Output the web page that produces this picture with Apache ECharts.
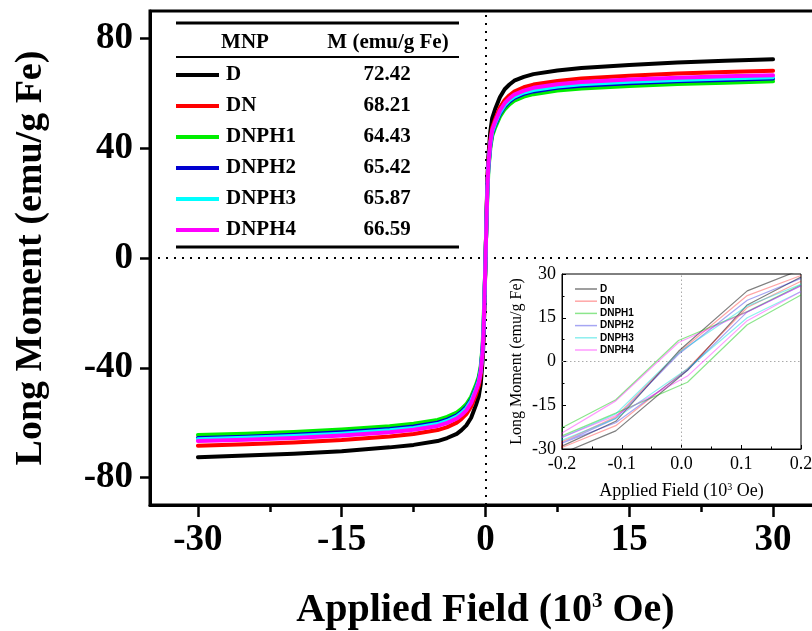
<!DOCTYPE html>
<html><head><meta charset="utf-8">
<script src="https://cdn.jsdelivr.net/npm/echarts@6/dist/echarts.min.js"></script>
<style>html,body{margin:0;padding:0;background:#fff}#c{width:812px;height:631px}</style>
</head><body><div id="c"></div>
<script>
// ---------- data ----------
const seriesNames = ['D', 'DN', 'DNPH1', 'DNPH2', 'DNPH3', 'DNPH4'];
const satValues = ['72.42', '68.21', '64.43', '65.42', '65.87', '66.59'];
const tableHeader = ['MNP', 'M (emu/g Fe)'];

const xField = [-30,-25,-20,-15,-10,-7.5,-5,-4,-3,-2.5,-2,-1.5,-1,-0.7,-0.5,-0.3,-0.2,-0.1,0,
                0.1,0.2,0.3,0.5,0.7,1,1.5,2,2.5,3,4,5,7.5,10,15,20,25,30];
const mD   = [-72.6,-72.0,-71.3,-70.4,-69.0,-68.1,-66.7,-65.6,-64.1,-62.7,-61.0,-58.2,-53.6,-50.3,-46.0,-37.2,-29.5,-15.8,-1.0,
              14.5,29.0,37.0,46.0,51.0,54.2,58.6,61.5,63.2,64.6,66.0,67.0,68.3,69.2,70.3,71.2,71.9,72.4];
const mDN  = [-68.4,-67.9,-67.2,-66.3,-65.0,-64.1,-62.7,-61.6,-60.0,-58.6,-56.9,-54.2,-49.8,-46.6,-42.6,-34.5,-27.5,-14.5,-0.8,
              14.0,27.5,35.0,43.0,47.5,50.5,54.8,57.5,59.3,60.6,62.2,63.2,64.5,65.4,66.4,67.2,67.8,68.2];
const mH1  = [-64.5,-64.0,-63.4,-62.5,-61.3,-60.4,-59.0,-57.9,-56.3,-55.0,-53.3,-50.6,-46.3,-43.2,-39.5,-32.0,-23.0,-12.5,-1.0,
              13.5,23.0,32.0,40.0,44.5,47.5,51.5,54.2,56.0,57.3,58.8,59.7,61.0,61.8,62.7,63.4,63.9,64.4];
const mH2  = [-65.6,-65.1,-64.4,-63.5,-62.3,-61.4,-60.0,-58.9,-57.3,-56.0,-54.3,-51.6,-47.4,-44.3,-40.5,-33.0,-26.5,-13.5,-1.0,
              14.0,26.5,33.0,41.0,45.5,48.5,52.5,55.2,57.0,58.3,59.8,60.7,62.0,62.8,63.7,64.4,64.9,65.4];
const mH3  = [-66.0,-65.5,-64.9,-64.0,-62.8,-61.9,-60.5,-59.4,-57.8,-56.5,-54.8,-52.1,-47.8,-44.8,-41.0,-33.5,-25.0,-13.0,-1.0,
              13.5,25.0,33.5,41.5,46.0,49.0,53.0,55.7,57.5,58.8,60.3,61.2,62.5,63.3,64.2,64.9,65.4,65.9];
const mH4  = [-66.7,-66.2,-65.6,-64.7,-63.5,-62.6,-61.2,-60.1,-58.5,-57.2,-55.5,-52.8,-48.4,-45.3,-41.5,-34.0,-26.0,-13.5,-1.0,
              13.0,25.5,34.0,42.0,46.6,49.6,53.7,56.4,58.2,59.5,61.0,62.0,63.3,64.1,65.0,65.7,66.2,66.6];
const mainData = [mD, mDN, mH1, mH2, mH3, mH4];

// inset: hysteresis loops, upper (descending) and lower (ascending) branches
const loopUpX = [0.2, 0.11, -0.005, -0.11, -0.2];
const loopLoX = [-0.2, -0.11, 0.01, 0.11, 0.2];
const upD  = [31.5, 24.2, 3.5, -20.5, -29.0];  const loD  = [-31.5, -23.8, -3.0, 19.4, 29.0];
const upDN = [29.5, 22.6, 3.0, -19.0, -27.5];  const loDN = [-29.5, -22.0, -2.5, 18.5, 27.5];
const upH1 = [26.3, 17.1, 7.2, -13.1, -22.7];  const loH1 = [-25.5, -17.7, -7.1, 12.6, 22.8];
const upH2 = [28.5, 21.0, 2.5, -19.5, -28.0];  const loH2 = [-28.5, -21.0, -3.0, 17.0, 26.0];
const upH3 = [26.5, 19.0, 3.0, -18.0, -26.0];  const loH3 = [-27.0, -19.5, -2.5, 15.0, 24.0];
const upH4 = [26.0, 17.0, 6.5, -13.5, -24.5];  const loH4 = [-26.0, -18.5, -5.0, 14.0, 24.0];
const loopsUp = [upD, upDN, upH1, upH2, upH3, upH4];
const loopsLo = [loD, loDN, loH1, loH2, loH3, loH4];

const mainXTicks = [-30, -15, 0, 15, 30];
const mainXMinor = [-22.5, -7.5, 7.5, 22.5];
const mainYTicks = [-80, -40, 0, 40, 80];
const mainYMinor = [-60, -20, 20, 60];

// ---------- styles ----------
const colors = ['#000000', '#ff0000', '#00ee00', '#0000d0', '#00ffff', '#ff00ff'];
const insetColors = ['rgba(0,0,0,0.5)', 'rgba(255,0,0,0.35)', 'rgba(0,200,0,0.45)', 'rgba(0,0,220,0.35)', 'rgba(0,220,220,0.45)', 'rgba(255,0,255,0.4)'];
const SERIF = '"Liberation Serif","Times New Roman",serif';
const SANS = '"Liberation Sans",Arial,sans-serif';

const chart = echarts.init(document.getElementById('c'), null, {renderer: 'canvas'});

const series = [];
seriesNames.forEach((n, i) => {
  series.push({
    name: n, type: 'line', xAxisIndex: 0, yAxisIndex: 0,
    data: xField.map((x, k) => [x, mainData[i][k]]),
    showSymbol: false, symbol: 'none', silent: true,
    lineStyle: {color: colors[i], width: 4, join: 'round', cap: 'round'},
    z: 3 + i
  });
});
series.push({
  type: 'line', xAxisIndex: 0, yAxisIndex: 0, data: [], silent: true, z: 2,
  markLine: {
    symbol: ['none', 'none'], silent: true, label: {show: false},
    lineStyle: {color: '#000', width: 2, type: [2, 6]},
    data: [{xAxis: 0}, {yAxis: 0}]
  }
});
seriesNames.forEach((n, i) => {
  const d = loopUpX.map((x, k) => [x, loopsUp[i][k]]).concat(loopLoX.map((x, k) => [x, loopsLo[i][k]]));
  series.push({
    name: n + ' (inset)', type: 'line', xAxisIndex: 2, yAxisIndex: 2, data: d,
    symbol: 'none', showSymbol: false, silent: true, clip: true,
    lineStyle: {color: insetColors[i], width: 1.2}, z: 5
  });
});
series.push({
  type: 'line', xAxisIndex: 2, yAxisIndex: 2, data: [], silent: true, z: 2,
  markLine: {
    symbol: ['none', 'none'], silent: true, label: {show: false},
    lineStyle: {color: '#aaa', width: 1, type: [1.5, 2.5]},
    data: [{xAxis: 0}, {yAxis: 0}]
  }
});

// graphic: table legend + inset legend
const graphics = [];
const tL = 176, tR = 459;
graphics.push({type: 'line', z: 100, shape: {x1: tL, y1: 23, x2: tR, y2: 23}, style: {stroke: '#000', lineWidth: 3}});
graphics.push({type: 'text', z: 100, style: {text: tableHeader[0], x: 245, y: 43, font: 'bold 21px ' + SERIF, fill: '#000', textAlign: 'center', textVerticalAlign: 'middle'}});
graphics.push({type: 'text', z: 100, style: {text: tableHeader[1], x: 388, y: 43, font: 'bold 21px ' + SERIF, fill: '#000', textAlign: 'center', textVerticalAlign: 'middle'}});
graphics.push({type: 'line', z: 100, shape: {x1: tL, y1: 57, x2: tR, y2: 57}, style: {stroke: '#000', lineWidth: 2}});
seriesNames.forEach((n, i) => {
  const y = 75 + 31 * i;
  graphics.push({type: 'line', z: 100, shape: {x1: 176, y1: y, x2: 219, y2: y}, style: {stroke: colors[i], lineWidth: 4}});
  graphics.push({type: 'text', z: 100, style: {text: n, x: 226, y: y, font: 'bold 21px ' + SERIF, fill: '#000', textAlign: 'left', textVerticalAlign: 'middle'}});
  graphics.push({type: 'text', z: 100, style: {text: satValues[i], x: 387, y: y, font: 'bold 21px ' + SERIF, fill: '#000', textAlign: 'center', textVerticalAlign: 'middle'}});
});
graphics.push({type: 'line', z: 100, shape: {x1: tL, y1: 247, x2: tR, y2: 247}, style: {stroke: '#000', lineWidth: 3}});
seriesNames.forEach((n, i) => {
  const y = 289 + 12.2 * i;
  graphics.push({type: 'line', z: 100, shape: {x1: 575, y1: y, x2: 597, y2: y}, style: {stroke: insetColors[i], lineWidth: 1.5}});
  graphics.push({type: 'text', z: 100, style: {text: n, x: 600, y: y, font: 'bold 10px ' + SANS, fill: '#000', textAlign: 'left', textVerticalAlign: 'middle'}});
});

const mainLabel = {color: '#000', fontFamily: SERIF, fontWeight: 'bold', fontSize: 37};
const insetLabel = {color: '#000', fontFamily: SERIF, fontSize: 18};

chart.setOption({
  backgroundColor: '#fff',
  animation: false,
  grid: [
    {left: 150, top: 11, width: 671, height: 494, show: true, borderColor: '#000', borderWidth: 3, outerBoundsMode: 'none', containLabel: false},
    {left: 562, top: 274, width: 239, height: 175, show: true, borderColor: '#000', borderWidth: 1, backgroundColor: '#fff', outerBoundsMode: 'none', containLabel: false}
  ],
  xAxis: [
    {type: 'value', gridIndex: 0, min: -35, max: 35, position: 'bottom',
     axisLine: {show: true, onZero: false, lineStyle: {color: '#000', width: 3}},
     axisTick: {show: true, customValues: mainXTicks, length: 12, lineStyle: {color: '#000', width: 2.5}},
     axisLabel: Object.assign({customValues: mainXTicks, margin: 17}, mainLabel),
     splitLine: {show: false},
     name: 'Applied Field (10{sup|3} Oe)', nameLocation: 'middle', nameGap: 86,
     nameTextStyle: {color: '#000', fontFamily: SERIF, fontWeight: 'bold', fontSize: 40,
       rich: {sup: {fontFamily: SERIF, fontWeight: 'bold', fontSize: 21, padding: [0, 0, 18, 0]}}}},
    {type: 'value', gridIndex: 0, min: -35, max: 35, position: 'bottom',
     axisLine: {show: false, onZero: false},
     axisTick: {show: true, customValues: mainXMinor, length: 7, lineStyle: {color: '#000', width: 2.5}},
     axisLabel: {show: false}, splitLine: {show: false}},
    {type: 'value', gridIndex: 1, min: -0.2, max: 0.2, interval: 0.1,
     axisLine: {show: true, onZero: false, lineStyle: {color: '#000', width: 1}},
     axisTick: {show: true, inside: true, length: 4, lineStyle: {color: '#000'}},
     minorTick: {show: true, splitNumber: 2, length: 2.5, lineStyle: {color: '#000'}},
     axisLabel: Object.assign({margin: 6, formatter: v => v.toFixed(1)}, insetLabel),
     splitLine: {show: false},
     name: 'Applied Field (10{sup|3} Oe)', nameLocation: 'middle', nameGap: 33,
     nameTextStyle: {color: '#000', fontFamily: SERIF, fontSize: 18,
       rich: {sup: {fontFamily: SERIF, fontSize: 10, padding: [0, 0, 8, 0]}}}}
  ],
  yAxis: [
    {type: 'value', gridIndex: 0, min: -90, max: 90,
     axisLine: {show: true, onZero: false, lineStyle: {color: '#000', width: 3}},
     axisTick: {show: true, customValues: mainYTicks, length: 10, lineStyle: {color: '#000', width: 2.5}},
     axisLabel: Object.assign({customValues: mainYTicks, margin: 17}, mainLabel),
     splitLine: {show: false},
     name: 'Long Moment (emu/g Fe)', nameLocation: 'middle', nameGap: 100,
     nameTextStyle: {color: '#000', fontFamily: SERIF, fontWeight: 'bold', fontSize: 38}},
    {type: 'value', gridIndex: 0, min: -90, max: 90,
     axisLine: {show: false, onZero: false},
     axisTick: {show: true, customValues: mainYMinor, length: 5, lineStyle: {color: '#000', width: 2.5}},
     axisLabel: {show: false}, splitLine: {show: false}},
    {type: 'value', gridIndex: 1, min: -30, max: 30, interval: 15,
     axisLine: {show: true, onZero: false, lineStyle: {color: '#000', width: 1}},
     axisTick: {show: true, inside: true, length: 4, lineStyle: {color: '#000'}},
     minorTick: {show: true, splitNumber: 2, length: 2.5, lineStyle: {color: '#000'}},
     axisLabel: Object.assign({margin: 6}, insetLabel),
     splitLine: {show: false},
     name: 'Long Moment (emu/g Fe)', nameLocation: 'middle', nameGap: 37,
     nameTextStyle: {color: '#000', fontFamily: SERIF, fontSize: 16}}
  ],
  series: series,
  graphic: {elements: graphics}
});
</script>
</body></html>
